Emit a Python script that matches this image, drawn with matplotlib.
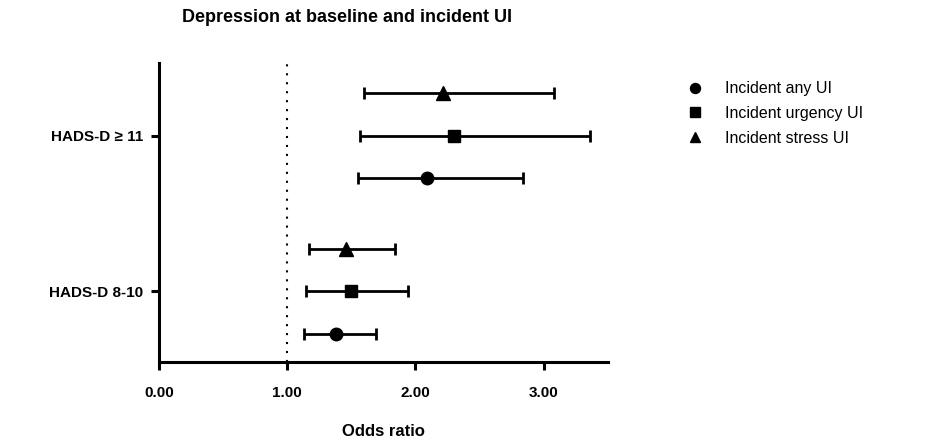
import matplotlib.pyplot as plt
from matplotlib.lines import Line2D

plt.rcParams['font.family'] = ['Liberation Sans', 'DejaVu Sans']

# row positions and labels
groups = ["HADS-D 8-10", "HADS-D \u2265 11"]
group_pos = [2.0, 5.65]

# series: name, marker, y positions, odds ratio, lower CI, upper CI
series_names = ["Incident any UI", "Incident urgency UI", "Incident stress UI"]
series_markers = ["o", "s", "^"]
y_any = [1.0, 4.65]
y_urg = [2.0, 5.65]
y_str = [3.0, 6.65]
or_any = [1.38, 2.09]
lo_any = [1.13, 1.55]
hi_any = [1.69, 2.84]
or_urg = [1.50, 2.30]
lo_urg = [1.15, 1.57]
hi_urg = [1.94, 3.36]
or_str = [1.46, 2.22]
lo_str = [1.17, 1.60]
hi_str = [1.84, 3.08]

ys = [y_any, y_urg, y_str]
ors = [or_any, or_urg, or_str]
los = [lo_any, lo_urg, lo_str]
his = [hi_any, hi_urg, hi_str]

fig = plt.figure(figsize=(9.45, 4.41), dpi=100)
ax = fig.add_axes([0.168, 0.179, 0.475, 0.678])

ax.axvline(1.0, color='black', lw=1.5, linestyle=(0, (1, 3.3)), zorder=1)

sizes = [9, 8.5, 9.5]
handles = []
for name, m, y, o, lo, hi, ms in zip(series_names, series_markers, ys, ors, los, his, sizes):
    err = [[a - b for a, b in zip(o, lo)], [b - a for a, b in zip(o, hi)]]
    ax.errorbar(o, y, xerr=err, fmt=m, color='black', ms=ms, lw=2,
                capsize=4.5, capthick=2, zorder=3)
    handles.append(Line2D([], [], marker=m, color='black', linestyle='none',
                          ms=ms * 0.8, label=name))

ax.set_xlim(0, 3.5)
ax.set_ylim(0.34, 7.35)
ax.set_xticks([0, 1, 2, 3])
ax.set_xticklabels(["0.00", "1.00", "2.00", "3.00"], fontweight='bold', fontsize=11)
ax.set_yticks(group_pos)
ax.set_yticklabels(groups, fontweight='bold', fontsize=11)
ax.set_xlabel("Odds ratio", fontweight='bold', fontsize=12, labelpad=17)

for s in ['top', 'right']:
    ax.spines[s].set_visible(False)
for s in ['left', 'bottom']:
    ax.spines[s].set_linewidth(2.2)
ax.tick_params(axis='both', width=2.2, length=5.5, pad=6)
ax.tick_params(axis='x', pad=12)

fig.text(0.367, 0.96, "Depression at baseline and incident UI", fontweight='bold',
         fontsize=13, ha='center', va='center')

fig.legend(handles=handles, loc='upper left', bbox_to_anchor=(0.72, 0.83),
           frameon=False, fontsize=11.5, handletextpad=1.4, labelspacing=0.6,
           handlelength=1.0, borderaxespad=0)

plt.savefig("out.png", dpi=100)
